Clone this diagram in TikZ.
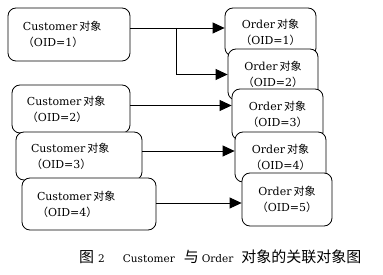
\documentclass[tikz,border=0pt]{standalone}
\usepackage{fontspec}
\setmainfont{DejaVu Serif}
\newfontfamily\cjk{Noto Sans CJK SC}
\usetikzlibrary{arrows.meta}
\newcommand{\myobj}{{\cjk 对象}}
\newcommand{\myoid}[1]{{\cjk （}OID=#1{\cjk ）}}
\newcommand{\cjkcap}{\cjk\fontsize{15}{16}\selectfont}
\tikzset{
  box/.style={draw, rounded corners=8pt, fill=white, line width=0.8pt,
    font=\fontsize{11}{16}\selectfont, inner ysep=0pt},
  cust/.style 2 args={box, align=left, inner xsep=15pt, text width=#1, minimum height=#2},
  ord/.style 2 args={box, align=center, inner xsep=0pt, minimum width=#1, minimum height=#2},
  conn/.style={line width=0.8pt},
  arr/.style={conn, -{Triangle[length=12pt,width=11pt]}},
  captext/.style={font=\fontsize{10.5}{14}\selectfont, inner sep=0pt, anchor=base west}
}
\begin{document}
\begin{tikzpicture}[x=1pt,y=1pt]
\useasboundingbox (0,0) rectangle (383,-275);
% customers
\node[cust={92pt}{53pt}] (c1) at (69,-34.5) {Customer\hspace{2pt}\myobj\\\myoid{1}};
\node[cust={88pt}{48pt}] (c2) at (71,-109) {Customer\hspace{2pt}\myobj\\\myoid{2}};
\node[cust={96pt}{48pt}] (c3) at (79,-156) {Customer\hspace{2pt}\myobj\\\myoid{3}};
\node[cust={104pt}{52pt}] (c4) at (89,-204) {Customer\hspace{2pt}\myobj\\\myoid{4}};
% orders
\node[ord={91pt}{48pt}] (o1) at (270.5,-32) {Order\hspace{2pt}\myobj\\\myoid{1}};
\node[ord={90pt}{51pt}] (o2) at (273,-74.5) {Order\hspace{2pt}\myobj\\\myoid{2}};
\node[ord={91pt}{51pt}] (o3) at (277.5,-114.5) {Order\hspace{2pt}\myobj\\\myoid{3}};
\node[ord={91pt}{50pt}] (o4) at (280.5,-157) {Order\hspace{2pt}\myobj\\\myoid{4}};
\node[ord={90pt}{53pt}] (o5) at (287,-199.5) {Order\hspace{2pt}\myobj\\\myoid{5}};
% connectors
\coordinate (br) at (176,0);
\coordinate (a1) at ([yshift=6.5pt]c1.east);
\coordinate (a2) at ([yshift=3.5pt]c2.east);
\coordinate (a3) at ([yshift=5pt]c3.east);
\coordinate (a4) at ([yshift=1pt]c4.east);
\draw[arr] (a1) -- (a1 -| o1.west);
\draw[arr] (a1 -| br) |- (o2.west);
\draw[arr] (a2) -- (a2 -| o3.west);
\draw[arr] (a3) -- (a3 -| o4.west);
\draw[arr] (a4) -- (a4 -| o5.west);
% caption
\node[captext] (caption) at (79,-262) {{\cjkcap 图}\hspace{4pt}2\hspace{18pt}Customer\hspace{9pt}{\cjkcap 与}\hspace{3pt}Order\hspace{8pt}{\cjkcap 对象的关联对象图}};
\end{tikzpicture}
\end{document}
